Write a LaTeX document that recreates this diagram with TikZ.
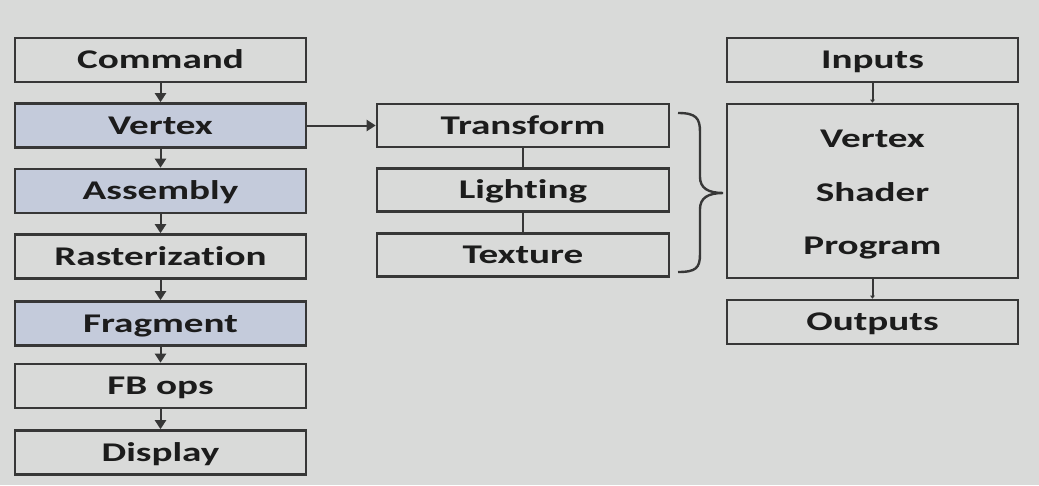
\documentclass[tikz,border=0pt]{standalone}
\usepackage{fontspec}
\setmainfont{Carlito}[Ligatures=NoCommon]
\usetikzlibrary{arrows.meta}
\definecolor{bg}{RGB}{217,218,217}
\definecolor{vblue}{RGB}{196,203,219}
\definecolor{ln}{RGB}{55,55,55}
\definecolor{tx}{RGB}{28,28,28}
\newcommand{\widetxt}[1]{\scalebox{1.45}[1]{#1}}
\begin{document}
\begin{tikzpicture}[x=1pt,y=-1pt,
  box/.style={draw=ln, line width=2.6pt, minimum width=291pt, minimum height=44pt,
    inner sep=0pt, text=tx, font=\fontsize{27}{30}\selectfont\bfseries,
    text height=17.4pt, text depth=0pt},
  hl/.style={box, fill=vblue},
  lbl/.style={inner sep=0pt, text=tx, font=\fontsize{27}{30}\selectfont\bfseries,
    text height=17.4pt, text depth=0pt},
  arr/.style={draw=ln, line width=2pt, -{Triangle[length=9pt,width=11pt]}},
  link/.style={draw=ln, line width=2pt},
  tinyarr/.style={draw=ln, line width=2pt, -{Triangle[length=3pt,width=4.5pt]}}]
\fill[bg] (0,0) rectangle (1039,485);
\useasboundingbox (0,0) rectangle (1039,485);
% left column
\node[box] (cmd) at (160.5,60) {\widetxt{Command}};
\node[hl]  (vtx) at (160.5,125.5) {\widetxt{Vertex}};
\node[hl]  (asm) at (160.5,191) {\widetxt{Assembly}};
\node[box] (ras) at (160.5,256.5) {\widetxt{Rasterization}};
\node[hl]  (frg) at (160.5,323.5) {\widetxt{Fragment}};
\node[box] (fbo) at (160.5,386) {\widetxt{FB ops}};
\node[box] (dsp) at (160.5,452.5) {\widetxt{Display}};
\draw[arr] (cmd) -- (vtx);
\draw[arr] (vtx) -- (asm);
\draw[arr] (asm) -- (ras);
\draw[arr] (ras) -- (frg);
\draw[arr] (frg) -- (fbo);
\draw[arr] (fbo) -- (dsp);
% middle column
\node[box, minimum width=292pt, minimum height=43pt] (trf) at (523,125.5) {\widetxt{Transform}};
\node[box, minimum width=292pt, minimum height=43pt] (lit) at (523,190) {\widetxt{Lighting}};
\node[box, minimum width=292pt, minimum height=43pt] (tex) at (523,255) {\widetxt{Texture}};
\draw[arr] (vtx) -- (trf);
\draw[link] (trf) -- (lit);
\draw[link] (lit) -- (tex);
% brace
\draw[ln, line width=2.4pt] (678,113) .. controls (696,113) and (700,118) .. (700,132)
  -- (700,177) .. controls (700,188) and (708,193) .. (723,193)
  .. controls (708,193) and (700,198) .. (700,209)
  -- (700,254) .. controls (700,268) and (696,272) .. (678,272);
% right column
\node[box] (inp) at (872.5,60) {\widetxt{Inputs}};
\node[box, minimum height=174pt] (vsp) at (872.5,191) {};
\node[lbl] (vs1) at (872.5,139) {\widetxt{Vertex}};
\node[lbl] (vs2) at (872.5,193) {\widetxt{Shader}};
\node[lbl] (vs3) at (872.5,246) {\widetxt{Program}};
\node[box] (out) at (872.5,322) {\widetxt{Outputs}};
\draw[tinyarr] (inp) -- (vsp);
\draw[tinyarr] (vsp) -- (out);
\end{tikzpicture}
\end{document}
